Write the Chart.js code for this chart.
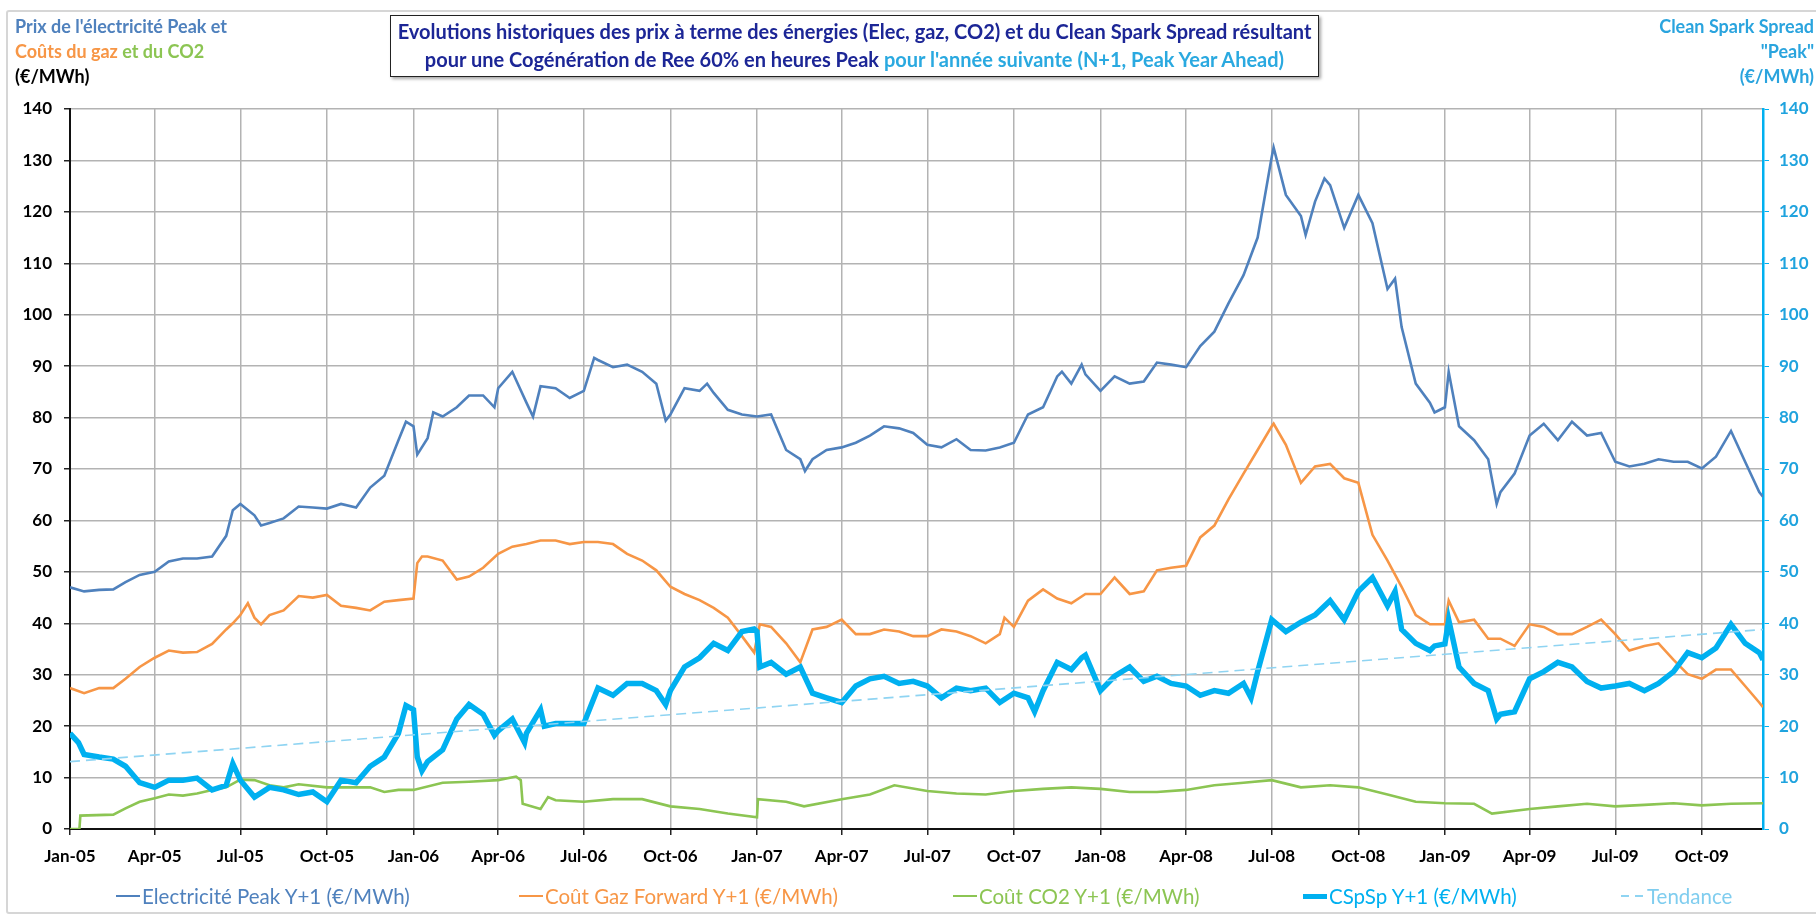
<!DOCTYPE html>
<html>
<head>
<meta charset="utf-8">
<script src="https://cdn.jsdelivr.net/npm/chart.js@4.4.1/dist/chart.umd.min.js"></script>
<style>
  body { margin: 0; width: 1816px; height: 918px; overflow: hidden; background: #fff; font-family: Lato, sans-serif; position: relative; }
  #frame { position: absolute; left: 6px; top: 10px; width: 1814px; height: 904px; border: 2px solid #d6d6d6; border-radius: 3px; box-sizing: border-box; }
  #chart { position: absolute; left: 0; top: 0; }
  .note { position: absolute; font-weight: bold; font-size: 18px; line-height: 25px; white-space: nowrap; }
  #left { left: 15px; top: 14px; }
  #right { right: 2px; top: 14px; text-align: right; color: #2aa4de; }
  #title { position: absolute; left: 390px; top: 15px; width: 929px; height: 62px; box-sizing: border-box; border: 1.5px solid #222; box-shadow: 2px 2px 3px rgba(0,0,0,.35); background: #fff; text-align: center; font-weight: bold; font-size: 20px; line-height: 28px; color: #1c2696; padding-top: 1px; white-space: nowrap; }
  .item { position: absolute; top: 884px; font-size: 20.5px; display: flex; align-items: center; white-space: nowrap; }
  .sw { display: inline-block; width: 24px; margin-right: 2px; }
</style>
</head>
<body>
<div id="frame"></div>
<canvas id="chart" width="1816" height="918"></canvas>
<div class="note" id="left">
  <span style="color:#4f81bd">Prix de l'électricité Peak et</span><br>
  <span style="color:#f79646">Coûts du gaz</span> <span style="color:#8cc553">et du CO2</span><br>
  <span style="color:#000">(€/MWh)</span>
</div>
<div class="note" id="right">Clean Spark Spread<br>"Peak"<br>(€/MWh)</div>
<div id="title">Evolutions historiques des prix à terme des énergies (Elec, gaz, CO2) et du Clean Spark Spread résultant<br>pour une Cogénération de Ree 60% en heures Peak <span style="color:#2aa9e0">pour l'année suivante (N+1, Peak Year Ahead)</span></div>
<div id="legend"></div>

<script>
// sample dates (semi-monthly, plus a few spikes)
let dates = [
  '2005-01-01','2005-01-10','2005-01-16','2005-02-01','2005-02-16','2005-03-01','2005-03-16','2005-04-01','2005-04-16','2005-05-01','2005-05-16','2005-06-01','2005-06-16','2005-06-23','2005-07-01','2005-07-09','2005-07-16','2005-07-23','2005-08-01','2005-08-16','2005-09-01','2005-09-16','2005-10-01','2005-10-16','2005-11-01','2005-11-16','2005-12-01','2005-12-16','2005-12-24',
  '2006-01-01','2006-01-05','2006-01-10','2006-01-16','2006-01-22','2006-02-01','2006-02-16','2006-03-01','2006-03-16','2006-03-28','2006-04-01','2006-04-16','2006-04-29','2006-05-01','2006-05-08','2006-05-16','2006-05-20','2006-06-01','2006-06-16','2006-07-01','2006-07-12','2006-07-16','2006-08-01','2006-08-16','2006-09-01','2006-09-16','2006-09-26','2006-10-01','2006-10-16','2006-11-01','2006-11-09','2006-11-16','2006-12-01','2006-12-16','2006-12-29',
  '2007-01-01','2007-01-04','2007-01-16','2007-02-01','2007-02-16','2007-02-21','2007-03-01','2007-03-16','2007-04-01','2007-04-16','2007-05-01','2007-05-16','2007-06-01','2007-06-16','2007-07-01','2007-07-16','2007-08-01','2007-08-16','2007-09-01','2007-09-16','2007-09-21','2007-10-01','2007-10-16','2007-10-23','2007-11-01','2007-11-16','2007-11-21','2007-12-01','2007-12-12','2007-12-16',
  '2008-01-01','2008-01-16','2008-02-01','2008-02-16','2008-03-01','2008-03-16','2008-04-01','2008-04-16','2008-05-01','2008-05-16','2008-06-01','2008-06-09','2008-06-16','2008-07-01','2008-07-03','2008-07-16','2008-08-01','2008-08-06','2008-08-16','2008-08-26','2008-09-01','2008-09-16','2008-10-01','2008-10-16','2008-11-01','2008-11-09','2008-11-16','2008-12-01','2008-12-16','2008-12-21',
  '2009-01-01','2009-01-05','2009-01-16','2009-02-01','2009-02-16','2009-02-25','2009-03-01','2009-03-16','2009-04-01','2009-04-16','2009-05-01','2009-05-16','2009-06-01','2009-06-16','2009-07-01','2009-07-16','2009-08-01','2009-08-16','2009-09-01','2009-09-16','2009-10-01','2009-10-16','2009-11-01','2009-11-16','2009-12-01','2009-12-05'
]

let elec = [
  47, null, 46.2, 46.5, 46.6, 48, 49.4, 50, 52, 52.6, 52.6, 53, 57, 62, 63.2, null, 61, 59, 59.5, 60.4, 62.7, 62.5, 62.3, 63.2, 62.5, 66.4, 68.7, 75.6, 79.2,
  78.3, 72.8, null, 76, 81, 80.2, 82, 84.3, 84.3, 82, 85.7, 88.9, null, 82.9, 80.2, 86.1, null, 85.7, 83.8, 85.2, 91.6, 91.2, 89.8, 90.3, 88.9, 86.6, 79.4, 80.6, 85.7, 85.2, 86.6, 84.8, 81.5, 80.6, null,
  80.2, null, 80.6, 73.7, 71.9, 69.6, 71.9, 73.7, 74.2, 75.1, 76.5, 78.3, 77.9, 77, 74.7, 74.2, 75.8, 73.7, 73.6, 74.2, null, 75.1, 80.6, null, 82, 88, 88.9, 86.6, 90.3, 88.4,
  85.2, 88, 86.6, 87, 90.7, 90.3, 89.8, 93.9, 96.7, 102.2, 107.7, null, 115, 130.7, 132.5, 123.3, 119.2, 115.5, 122, 126.5, 125.2, 116.9, 123.3, 117.8, 105, 107, 97.6, 86.6, 82.9, 81,
  82, 88.9, 78.3, 75.6, 71.9, 63.2, 65.5, 69.1, 76.5, 78.8, 75.6, 79.2, 76.5, 77, 71.4, 70.5, 71, 71.9, 71.4, 71.4, 70.1, 72.4, 77.4, 71.4, 65.5, 64.6
]

let gas = [
  27.4, null, 26.4, 27.4, 27.4, 29.2, 31.5, 33.3, 34.7, 34.3, 34.4, 36, 38.8, 40, 41.6, 43.9, 41.1, 39.8, 41.6, 42.5, 45.3, 45, 45.5, 43.4, 43, 42.5, 44.2, 44.5, null,
  44.8, 51.7, 53, 53, null, 52.2, 48.5, 49.1, 50.8, null, 53.5, 54.9, null, 55.4, null, 56.1, null, 56.1, 55.4, 55.8, null, 55.8, 55.4, 53.5, 52.2, 50.3, null, 47.1, 45.7, 44.5, null, 43, 41.1, 37.5, 34.3,
  null, 39.8, 39.3, 36.1, 32.4, null, 38.8, 39.3, 40.7, 37.9, 37.9, 38.8, 38.4, 37.5, 37.5, 38.8, 38.4, 37.5, 36.1, 37.9, 41.1, 39.3, 44.4, null, 46.6, 44.8, null, 43.9, null, 45.7,
  45.7, 48.9, 45.7, 46.2, 50.3, 50.8, 51.2, 56.7, 59, 64.1, 69.1, null, 73.7, 78.3, 78.8, 74.7, 67.3, null, 70.5, null, 71, 68.2, 67.3, 57.2, 52.2, null, 47.1, 41.6, 39.8, null,
  39.8, 44.4, 40.2, 40.7, 37, null, 37, 35.6, 39.8, 39.3, 37.9, 37.9, 39.3, 40.7, 37.9, 34.7, 35.6, 36.1, 32.9, 30.1, 29.2, 31, 31, 27.8, 24.6, 23.7
]

let spark = [
  18.6, 16.8, 14.5, 14, 13.6, 12.2, 9, 8.1, 9.5, 9.5, 9.9, 7.6, 8.5, 12.7, 9.5, null, 6.2, null, 8.1, 7.6, 6.7, 7.2, 5.3, 9.5, 9, 12.2, 14, 18.6, 24,
  23.2, 14, 11.3, 13.1, null, 15.4, 21.4, 24.2, 22.3, 18.2, 19.1, 21.4, 16.8, 18.6, null, 23.2, 20, 20.5, 20.5, 20.5, null, 27.4, 26, 28.3, 28.3, 26.9, 24.2, 26.9, 31.5, 33.3, null, 36.1, 34.7, 38.4, 38.9,
  38.4, 31.5, 32.4, 30.1, 31.5, null, 26.4, 25.5, 24.6, 27.8, 29.2, 29.7, 28.3, 28.7, 27.8, 25.5, 27.4, 26.9, 27.4, 24.6, null, 26.4, 25.5, 22.8, 26.9, 32.4, null, 31, 33.3, 33.8,
  26.9, 29.7, 31.5, 28.7, 29.7, 28.3, 27.8, 26, 26.9, 26.4, 28.3, 25.5, 30.6, 40.7, null, 38.4, 40.2, null, 41.6, null, 44.4, 40.7, 46.2, 48.9, 43.4, 46.2, 38.8, 36.1, 34.7, 35.6,
  36, 40.7, 31.5, 28.3, 26.9, 21.4, 22.3, 22.8, 29.2, 30.6, 32.4, 31.5, 28.7, 27.4, 27.8, 28.3, 26.9, 28.3, 30.6, 34.3, 33.3, 35.2, 39.8, 36.1, 34.3, 32.9
]

let co2Dates = [
  '2005-01-01','2005-01-11','2005-01-12','2005-02-16','2005-03-01','2005-03-16','2005-04-01','2005-04-16','2005-05-01','2005-05-16','2005-06-01','2005-06-16','2005-07-01','2005-07-16','2005-08-01','2005-08-16','2005-09-01','2005-10-01','2005-11-16','2005-12-01','2005-12-16',
  '2006-01-01','2006-02-01','2006-03-01','2006-04-01','2006-04-20','2006-04-25','2006-04-27','2006-05-16','2006-05-24','2006-06-01','2006-07-01','2006-08-01','2006-09-01','2006-10-01','2006-11-01','2006-12-01',
  '2007-01-01','2007-01-02','2007-02-01','2007-02-20','2007-04-01','2007-05-01','2007-05-27','2007-07-01','2007-08-01','2007-09-01','2007-10-01','2007-11-01','2007-12-01',
  '2008-01-01','2008-02-01','2008-03-01','2008-04-01','2008-05-01','2008-06-01','2008-07-01','2008-08-01','2008-09-01','2008-10-01','2008-11-01','2008-12-01',
  '2009-01-01','2009-02-01','2009-02-20','2009-04-01','2009-05-01','2009-06-01','2009-07-01','2009-08-01','2009-09-01','2009-10-01','2009-11-01','2009-12-05'
]
let co2 = [
  0, 0, 2.6, 2.8, 4, 5.3, 6, 6.7, 6.5, 6.9, 7.6, 8.1, 9.6, 9.5, 8.5, 8.1, 8.7, 8.1, 8.1, 7.2, 7.6,
  7.6, 9, 9.2, 9.5, 10.2, 9.5, 4.9, 3.9, 6.2, 5.6, 5.3, 5.8, 5.8, 4.4, 3.9, 3,
  2.3, 5.8, 5.3, 4.4, 5.8, 6.7, 8.5, 7.4, 6.9, 6.7, 7.4, 7.8, 8.1,
  7.8, 7.2, 7.2, 7.6, 8.5, 9, 9.5, 8.1, 8.5, 8.1, 6.7, 5.3,
  5, 4.9, 3, 3.9, 4.4, 4.9, 4.4, 4.7, 5, 4.6, 4.9, 5
]

// linear trend of the spread, two ends
let trendDates = ['2005-01-01', '2009-12-05']
let trend = [13.1, 38.8]

let tickDates = ['2005-01-01','2005-04-01','2005-07-01','2005-10-01','2006-01-01','2006-04-01','2006-07-01','2006-10-01','2007-01-01','2007-04-01','2007-07-01','2007-10-01','2008-01-01','2008-04-01','2008-07-01','2008-10-01','2009-01-01','2009-04-01','2009-07-01','2009-10-01']
let tickLabels = ['Jan-05','Apr-05','Jul-05','Oct-05','Jan-06','Apr-06','Jul-06','Oct-06','Jan-07','Apr-07','Jul-07','Oct-07','Jan-08','Apr-08','Jul-08','Oct-08','Jan-09','Apr-09','Jul-09','Oct-09']

let labels = ['Electricité Peak Y+1 (€/MWh)', 'Coût Gaz Forward Y+1 (€/MWh)', 'Coût CO2 Y+1 (€/MWh)', 'CSpSp Y+1 (€/MWh)', 'Tendance']

// days since 1 Jan 2005
function day(s) {
  return (Date.UTC(+s.slice(0, 4), +s.slice(5, 7) - 1, +s.slice(8, 10)) - Date.UTC(2005, 0, 1)) / 864e5
}
function points(ds, vs) {
  return ds.map((d, i) => ({x: day(d), y: vs[i]})).filter(p => p.y !== null)
}

const cyan = '#00b0f0'
const tickFont = {family: 'Lato', weight: 'bold', size: 17}

let ctx = document.getElementById('chart').getContext('2d')
let chart = new Chart(ctx, {
  type: 'line',
  data: {
    datasets: [{
      label: labels[0],
      data: points(dates, elec),
      borderColor: '#4f81bd',
      borderWidth: 2.6,
      order: 2
    },
    {
      label: labels[1],
      data: points(dates, gas),
      borderColor: '#f79646',
      borderWidth: 2.6,
      order: 3
    },
    {
      label: labels[2],
      data: points(co2Dates, co2),
      borderColor: '#8cc553',
      borderWidth: 2.6,
      order: 4
    },
    {
      label: labels[3],
      data: points(dates, spark),
      borderColor: cyan,
      borderWidth: 5.5,
      yAxisID: 'y2',
      order: 1
    },
    {
      label: labels[4],
      data: points(trendDates, trend),
      borderColor: '#8fd4f2',
      borderWidth: 1.6,
      borderDash: [10, 6],
      yAxisID: 'y2',
      order: 0
    }]
  },
  options: {
    responsive: false,
    animation: false,
    layout: {padding: {top: 109, bottom: 50, left: 0, right: 0}},
    elements: {point: {radius: 0}, line: {tension: 0, fill: false}},
    plugins: {legend: {display: false}, tooltip: {enabled: false}},
    scales: {
      x: {
        type: 'linear',
        min: 0,
        max: day('2009-12-05'),
        afterBuildTicks: s => { s.ticks = tickDates.map(d => ({value: day(d)})) },
        afterFit: s => { s.height = 39 },
        ticks: {callback: (v, i) => tickLabels[i], color: '#000', font: tickFont, padding: 11, maxRotation: 0, autoSkip: false},
        grid: {color: '#b3b3b3', lineWidth: 1.5, tickLength: 6, tickColor: '#222'},
        border: {color: '#111', width: 2}
      },
      y: {
        position: 'left',
        min: 0,
        max: 140,
        afterFit: s => { s.width = 70 },
        ticks: {stepSize: 10, color: '#000', font: tickFont, padding: 12},
        grid: {color: '#b3b3b3', lineWidth: 1.5, tickLength: 6, tickColor: '#222'},
        border: {color: '#111', width: 2}
      },
      y2: {
        position: 'right',
        min: 0,
        max: 140,
        afterFit: s => { s.width = 53 },
        ticks: {stepSize: 10, color: '#1fa3de', font: tickFont, padding: 10},
        grid: {drawOnChartArea: false, tickLength: 6, tickColor: cyan},
        border: {color: cyan, width: 2.5}
      }
    }
  }
})

// html legend below the chart
let legendX = [116, 519, 953, 1303, 1621]
let legendText = ['#4f81bd', '#f79646', '#8cc553', cyan, '#7fcdef']
let legend = document.getElementById('legend')
chart.data.datasets.forEach((ds, i) => {
  let item = document.createElement('div')
  item.className = 'item'
  item.style.left = legendX[i] + 'px'
  let sw = document.createElement('span')
  sw.className = 'sw'
  if (ds.borderDash) {
    sw.style.height = '2px'
    sw.style.background = 'repeating-linear-gradient(90deg,' + ds.borderColor + ' 0 8px, transparent 8px 14px)'
  } else {
    sw.style.borderTop = ds.borderWidth + 'px solid ' + ds.borderColor
  }
  let txt = document.createElement('span')
  txt.textContent = ds.label
  txt.style.color = legendText[i]
  item.appendChild(sw)
  item.appendChild(txt)
  legend.appendChild(item)
})
</script>
</body>
</html>
